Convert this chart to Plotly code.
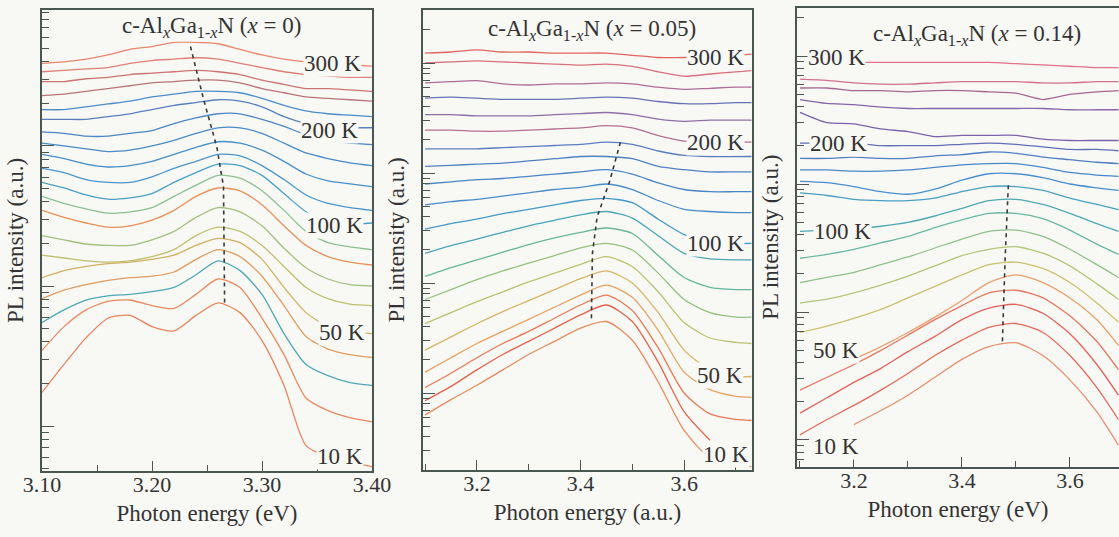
import numpy as np
import plotly.graph_objects as go

# Temperatures of the stacked PL spectra (bottom to top)
temps = [10, 20, 30, 40, 50, 60, 70, 80, 90, 100,
         120, 140, 160, 180, 200, 220, 240, 260, 280, 300]
labelled_temps = [10, 50, 100, 200, 300]

# ---- c-AlxGa1-xN, x = 0 : log10 PL intensity (offset) vs photon energy (eV)
energy_a = [3.10, 3.12, 3.14, 3.16, 3.18, 3.20, 3.22, 3.24,
            3.26, 3.28, 3.30, 3.32, 3.34, 3.36, 3.38, 3.40]
logpl_a = [
    [0.24, 0.44, 0.63, 0.77, 0.79, 0.71, 0.68, 0.79, 0.88, 0.81, 0.61, 0.29, -0.14, -0.22, -0.26, -0.29],
    [0.54, 0.71, 0.83, 0.89, 0.90, 0.86, 0.84, 0.94, 1.05, 0.99, 0.77, 0.51, 0.20, 0.11, 0.06, 0.03],
    [0.74, 0.83, 0.90, 0.93, 0.94, 0.96, 0.99, 1.08, 1.18, 1.11, 0.94, 0.66, 0.44, 0.36, 0.31, 0.29],
    [0.91, 0.97, 1.01, 1.04, 1.06, 1.07, 1.10, 1.19, 1.26, 1.21, 1.07, 0.86, 0.64, 0.55, 0.51, 0.49],
    [1.06, 1.11, 1.14, 1.16, 1.17, 1.19, 1.22, 1.29, 1.34, 1.31, 1.19, 0.99, 0.81, 0.71, 0.67, 0.66],
    [1.22, 1.20, 1.18, 1.17, 1.18, 1.21, 1.26, 1.36, 1.42, 1.39, 1.29, 1.14, 0.99, 0.91, 0.87, 0.86],
    [1.36, 1.33, 1.30, 1.29, 1.29, 1.33, 1.39, 1.49, 1.56, 1.53, 1.43, 1.27, 1.13, 1.05, 1.01, 1.00],
    [1.54, 1.49, 1.45, 1.42, 1.43, 1.47, 1.54, 1.64, 1.70, 1.68, 1.58, 1.43, 1.29, 1.21, 1.17, 1.15],
    [1.64, 1.59, 1.55, 1.52, 1.53, 1.56, 1.64, 1.72, 1.79, 1.77, 1.68, 1.54, 1.39, 1.31, 1.28, 1.26],
    [1.74, 1.70, 1.65, 1.62, 1.63, 1.66, 1.74, 1.81, 1.87, 1.86, 1.79, 1.66, 1.53, 1.46, 1.44, 1.45],
    [1.84, 1.81, 1.76, 1.74, 1.74, 1.78, 1.84, 1.89, 1.94, 1.93, 1.86, 1.76, 1.65, 1.59, 1.56, 1.54],
    [1.94, 1.91, 1.87, 1.85, 1.86, 1.89, 1.94, 1.99, 2.03, 2.02, 1.97, 1.89, 1.80, 1.75, 1.73, 1.71],
    [2.02, 2.00, 1.98, 1.96, 1.97, 2.00, 2.04, 2.09, 2.13, 2.13, 2.09, 2.02, 1.95, 1.91, 1.88, 1.86],
    [2.10, 2.09, 2.07, 2.07, 2.09, 2.11, 2.16, 2.20, 2.23, 2.23, 2.19, 2.14, 2.08, 2.04, 2.02, 2.01],
    [2.19, 2.19, 2.19, 2.21, 2.23, 2.26, 2.29, 2.31, 2.33, 2.32, 2.28, 2.21, 2.16, 2.13, 2.13, 2.13],
    [2.26, 2.26, 2.28, 2.30, 2.32, 2.35, 2.37, 2.39, 2.39, 2.38, 2.34, 2.29, 2.25, 2.23, 2.22, 2.21],
    [2.36, 2.37, 2.39, 2.41, 2.43, 2.45, 2.46, 2.47, 2.47, 2.45, 2.41, 2.38, 2.35, 2.34, 2.33, 2.32],
    [2.46, 2.46, 2.48, 2.49, 2.51, 2.52, 2.53, 2.54, 2.53, 2.51, 2.47, 2.44, 2.41, 2.41, 2.40, 2.39],
    [2.53, 2.54, 2.55, 2.56, 2.59, 2.61, 2.62, 2.63, 2.62, 2.59, 2.56, 2.53, 2.51, 2.50, 2.49, 2.49],
    [2.59, 2.60, 2.62, 2.65, 2.69, 2.71, 2.74, 2.74, 2.73, 2.69, 2.65, 2.62, 2.60, 2.59, 2.58, 2.57],
]
peak_e_a = [3.235, 3.247, 3.259, 3.265, 3.266]
peak_v_a = [2.71, 2.33, 1.99, 1.71, 0.88]

# ---- x = 0.05
energy_b = [3.10, 3.15, 3.20, 3.25, 3.30, 3.35, 3.40,
            3.45, 3.50, 3.55, 3.60, 3.65, 3.70, 3.73]
logpl_b = [
    [-0.20, -0.06, 0.07, 0.21, 0.35, 0.47, 0.59, 0.65, 0.48, 0.10, -0.34, -0.59, -0.65, -0.67],
    [-0.07, 0.06, 0.21, 0.35, 0.47, 0.59, 0.71, 0.80, 0.65, 0.28, -0.17, -0.43, None, None],
    [0.05, 0.18, 0.32, 0.45, 0.56, 0.68, 0.80, 0.89, 0.75, 0.41, 0.00, -0.19, -0.24, -0.25],
    [0.19, 0.32, 0.45, 0.56, 0.67, 0.78, 0.89, 0.98, 0.87, 0.57, 0.19, 0.03, -0.03, -0.04],
    [0.39, 0.51, 0.63, 0.74, 0.84, 0.94, 1.04, 1.11, 1.00, 0.73, 0.39, 0.21, 0.15, 0.15],
    [0.63, 0.73, 0.83, 0.92, 1.01, 1.09, 1.17, 1.24, 1.15, 0.92, 0.64, 0.50, 0.46, 0.45],
    [0.85, 0.94, 1.03, 1.11, 1.18, 1.25, 1.32, 1.36, 1.30, 1.09, 0.85, 0.73, 0.69, 0.69],
    [1.06, 1.14, 1.21, 1.28, 1.35, 1.41, 1.46, 1.50, 1.45, 1.25, 1.05, 0.96, 0.94, 0.94],
    [1.27, 1.34, 1.40, 1.46, 1.52, 1.57, 1.62, 1.65, 1.59, 1.43, 1.27, 1.22, 1.21, 1.21],
    [1.49, 1.54, 1.58, 1.63, 1.67, 1.71, 1.75, 1.77, 1.73, 1.58, 1.44, 1.38, 1.36, 1.36],
    [1.71, 1.74, 1.76, 1.79, 1.82, 1.85, 1.87, 1.90, 1.85, 1.75, 1.67, 1.65, 1.64, 1.64],
    [1.90, 1.92, 1.94, 1.95, 1.97, 1.99, 2.01, 2.03, 1.99, 1.91, 1.85, 1.83, 1.83, 1.83],
    [2.06, 2.07, 2.08, 2.09, 2.11, 2.13, 2.15, 2.15, 2.13, 2.06, 2.03, 2.01, 2.01, 2.01],
    [2.22, 2.22, 2.22, 2.23, 2.24, 2.25, 2.26, 2.28, 2.26, 2.20, 2.16, 2.15, 2.15, 2.15],
    [2.39, 2.39, 2.38, 2.38, 2.39, 2.40, 2.41, 2.43, 2.41, 2.34, 2.29, 2.28, 2.28, 2.28],
    [2.53, 2.53, 2.52, 2.52, 2.52, 2.53, 2.54, 2.55, 2.53, 2.49, 2.47, 2.48, 2.48, 2.48],
    [2.68, 2.69, 2.68, 2.67, 2.67, 2.67, 2.68, 2.69, 2.68, 2.65, 2.63, 2.63, 2.64, 2.64],
    [2.82, 2.83, 2.84, 2.81, 2.80, 2.81, 2.81, 2.82, 2.81, 2.78, 2.76, 2.77, 2.78, 2.78],
    [3.00, 3.01, 3.02, 3.01, 3.00, 2.99, 2.98, 2.99, 2.97, 2.92, 2.88, 2.90, 2.92, 2.93],
    [3.09, 3.10, 3.12, 3.10, 3.10, 3.09, 3.09, 3.09, 3.07, 3.05, 3.05, 3.06, 3.07, 3.08],
]
peak_e_b = [3.477, 3.456, 3.432, 3.423, 3.421]
peak_v_b = [2.28, 1.92, 1.60, 1.27, 0.66]

# ---- x = 0.14
energy_c = [3.10, 3.15, 3.20, 3.25, 3.30, 3.35, 3.40,
            3.45, 3.50, 3.55, 3.60, 3.65, 3.69]
logpl_c = [
    [None, None, 0.12, 0.23, 0.35, 0.49, 0.63, 0.73, 0.76, 0.66, 0.47, 0.22, -0.04],
    [0.04, 0.16, 0.27, 0.39, 0.52, 0.66, 0.78, 0.88, 0.91, 0.84, 0.66, 0.41, 0.16],
    [0.21, 0.33, 0.45, 0.56, 0.69, 0.81, 0.94, 1.03, 1.06, 0.99, 0.83, 0.59, 0.35],
    [0.39, 0.49, 0.59, 0.70, 0.82, 0.94, 1.05, 1.15, 1.17, 1.11, 0.97, 0.77, 0.55],
    [None, None, 0.63, 0.73, 0.84, 0.96, 1.09, 1.23, 1.29, 1.23, 1.11, 0.94, 0.74],
    [0.84, 0.89, 0.95, 1.02, 1.11, 1.20, 1.29, 1.37, 1.39, 1.34, 1.23, 1.07, 0.92],
    [1.07, 1.10, 1.15, 1.21, 1.28, 1.36, 1.44, 1.49, 1.51, 1.46, 1.36, 1.22, 1.10],
    [1.23, 1.27, 1.31, 1.37, 1.43, 1.50, 1.57, 1.63, 1.64, 1.59, 1.49, 1.37, 1.27],
    [1.42, 1.45, 1.49, 1.54, 1.59, 1.66, 1.72, 1.77, 1.77, 1.73, 1.64, 1.53, 1.45],
    [1.63, 1.64, 1.65, 1.67, 1.70, 1.75, 1.81, 1.87, 1.88, 1.84, 1.77, 1.69, 1.63],
    [1.93, 1.91, 1.88, 1.87, 1.87, 1.89, 1.94, 1.98, 1.98, 1.95, 1.89, 1.84, 1.80],
    [2.02, 2.01, 1.98, 1.94, 1.92, 1.96, 2.03, 2.08, 2.08, 2.05, 2.00, 1.97, 1.95],
    [2.11, 2.11, 2.10, 2.10, 2.11, 2.13, 2.15, 2.16, 2.16, 2.13, 2.09, 2.07, 2.06],
    [2.20, 2.20, 2.21, 2.20, 2.20, 2.22, 2.23, 2.25, 2.24, 2.21, 2.19, 2.17, 2.16],
    [2.32, 2.32, 2.32, 2.30, 2.30, 2.30, 2.31, 2.32, 2.31, 2.29, 2.27, 2.27, 2.26],
    [2.56, 2.48, 2.47, 2.43, 2.41, 2.37, 2.38, 2.38, 2.38, 2.35, 2.34, 2.34, 2.34],
    [2.66, 2.63, 2.62, 2.60, 2.59, 2.59, 2.59, 2.59, 2.59, 2.59, 2.58, 2.58, 2.58],
    [2.75, 2.75, 2.73, 2.73, 2.72, 2.73, 2.73, 2.72, 2.71, 2.66, 2.70, 2.72, 2.73],
    [2.82, 2.81, 2.79, 2.78, 2.78, 2.79, 2.80, 2.80, 2.80, 2.79, 2.79, 2.80, 2.80],
    [None, None, 2.95, 2.95, 2.95, 2.95, 2.95, 2.95, 2.94, 2.93, 2.92, 2.91, 2.91],
]
peak_e_c = [3.486, 3.480, 3.475]
peak_v_c = [1.99, 1.41, 0.77]

# Label anchor points (energy, log10 intensity) for each labelled temperature
label_e_a = [3.371, 3.373, 3.366, 3.361, 3.364]
label_v_a = [-0.22, 0.67, 1.43, 2.11, 2.59]
label_e_b = [3.680, 3.670, 3.660, 3.660, 3.660]
label_v_b = [-0.56, 0.16, 1.36, 2.28, 3.05]
label_e_c = [3.167, 3.167, 3.178, 3.171, 3.167]
label_v_c = [-0.05, 0.70, 1.63, 2.32, 2.99]

# Line colours, one per temperature (bottom to top)
colors_a = ["#e9845c", "#e98a5e", "#4fa8b4", "#e39c5f", "#d0b163", "#c0bf6e",
            "#a4c07e", "#e88f59", "#8cbf92", "#4a9fc6", "#4a96cc", "#4690cb",
            "#4a8bc8", "#4d86c4", "#5a80c0", "#4d8ccb", "#b87478", "#cc7473",
            "#de8078", "#e8866c"]
colors_b = ["#e98a5d", "#e4624c", "#e87a55", "#e6a262", "#d6b566", "#bcc26f",
            "#95c27e", "#67b59c", "#4aa6b4", "#4599c5", "#4a8dca", "#4a85c6",
            "#5281c3", "#5a7cc0", "#b56f90", "#8a70a8", "#6a72b4", "#ad6e94",
            "#d8707e", "#e3645e"]
colors_c = ["#e98e6e", "#e46a5a", "#e2625a", "#e7765f", "#e9a06c", "#cdc06f",
            "#b3c779", "#8fc189", "#6cb7a2", "#4fa9b2", "#4aa0c2", "#488fd0",
            "#4a88c9", "#527fc2", "#6070b8", "#7a64a8", "#8468a8", "#a56890",
            "#d16f90", "#e2728a"]

BG = "#f8f8f5"
AX = "#4a5651"
TXT = "#333333"
FONT = "Liberation Serif"
FS = 23
W, H = 1119, 537

panels = [
    dict(energy=energy_a, logpl=logpl_a, colors=colors_a, pe=peak_e_a, pv=peak_v_a,
         le=label_e_a, lv=label_v_a, xdom=(42, 372), ydom=(10, 471),
         xr=[3.10, 3.40], yr=[-0.321, 2.971], dtick=0.1, tick0=3.1, minor=0.05,
         fmt=".2f", unit="eV", comp="0", mirror_y=True, tx=0.515, ty=0.963),
    dict(energy=energy_b, logpl=logpl_b, colors=colors_b, pe=peak_e_b, pv=peak_v_b,
         le=label_e_b, lv=label_v_b, xdom=(423, 752), ydom=(10, 470),
         xr=[3.096, 3.731], yr=[-0.70, 3.482], dtick=0.2, tick0=3.2, minor=0.1,
         fmt=".1f", unit="a.u.", comp="0.05", mirror_y=True, tx=0.515, ty=0.957),
    dict(energy=energy_c, logpl=logpl_c, colors=colors_c, pe=peak_e_c, pv=peak_v_c,
         le=label_e_c, lv=label_v_c, xdom=(797, 1119), ydom=(7.5, 467),
         xr=[3.0945, 3.691], yr=[-0.211, 3.379], dtick=0.2, tick0=3.2, minor=0.1,
         fmt=".1f", unit="eV", comp="0.14", mirror_y=False, tx=0.56, ty=0.94),
]

fig = go.Figure()
layout = dict(
    width=W, height=H, margin=dict(l=0, r=0, t=0, b=0),
    paper_bgcolor=BG, plot_bgcolor=BG, showlegend=False,
    font=dict(family=FONT, color=TXT, size=FS),
)
annotations = []

for i, p in enumerate(panels):
    n = "" if i == 0 else str(i + 1)
    xa, ya = "x" + n, "y" + n

    for t, vals, col in zip(temps, p["logpl"], p["colors"]):
        fig.add_trace(go.Scatter(
            x=p["energy"], y=vals, mode="lines", xaxis=xa, yaxis=ya,
            line=dict(color=col, width=1.3, shape="spline", smoothing=0.7),
            connectgaps=False, hoverinfo="skip", name=f"{t} K"))

    # dashed guide through the emission peak
    fig.add_trace(go.Scatter(
        x=p["pe"], y=p["pv"], mode="lines", xaxis=xa, yaxis=ya,
        line=dict(color="#3a3a3a", width=1.6, dash="4px,4px"),
        hoverinfo="skip"))

    lo = int(np.floor(p["yr"][0])) - 1
    hi = int(np.ceil(p["yr"][1])) + 1
    majors = [d for d in range(lo, hi) if p["yr"][0] <= d <= p["yr"][1]]
    minors = [d + np.log10(k) for d in range(lo, hi) for k in range(2, 10)]
    minors = [round(float(m), 4) for m in minors if p["yr"][0] <= m <= p["yr"][1]]

    x0, x1 = p["xdom"]
    y0, y1 = p["ydom"]
    layout["xaxis" + n] = dict(
        domain=[x0 / W, x1 / W], range=p["xr"], anchor=ya,
        showline=True, linecolor=AX, linewidth=1.6, mirror=True,
        showgrid=False, zeroline=False,
        ticks="inside", ticklen=10, tickwidth=1.4, tickcolor=AX,
        tick0=p["tick0"], dtick=p["dtick"], tickformat=p["fmt"],
        ticklabelstandoff=-7,
        minor=dict(ticks="inside", ticklen=6, tickwidth=1.4, tickcolor=AX,
                   dtick=p["minor"], showgrid=False),
        tickfont=dict(size=FS - 1, family=FONT, color=TXT),
        title=dict(text=f"Photon energy ({p['unit']})", standoff=9,
                   font=dict(size=FS, family=FONT, color=TXT)),
        automargin=False,
    )
    layout["yaxis" + n] = dict(
        domain=[(H - y1) / H, (H - y0) / H], range=p["yr"], anchor=xa,
        showline=True, linecolor=AX, linewidth=1.6, mirror=p["mirror_y"],
        showgrid=False, zeroline=False, showticklabels=False,
        ticks="inside", ticklen=12, tickwidth=1.4, tickcolor=AX,
        tickmode="array", tickvals=majors,
        minor=dict(ticks="inside", ticklen=7, tickwidth=1.2, tickcolor=AX,
                   tickvals=minors, showgrid=False),
        title=dict(text="PL intensity (a.u.)", standoff=10,
                   font=dict(size=FS, family=FONT, color=TXT)),
        automargin=False,
    )

    # temperature labels (background masks the curve beneath)
    for t, e, v in zip(labelled_temps, p["le"], p["lv"]):
        annotations.append(dict(
            x=e, y=v, xref=xa, yref=ya, text=f"{t} K", showarrow=False,
            font=dict(size=FS, family=FONT, color=TXT),
            bgcolor=BG, borderpad=0, xanchor="center", yanchor="middle"))

    annotations.append(dict(
        x=p["tx"], y=p["ty"], xref=xa + " domain", yref=ya + " domain",
        text=f"c-Al<sub><i>x</i></sub>Ga<sub>1-<i>x</i></sub>N (<i>x</i> = {p['comp']})",
        showarrow=False, font=dict(size=FS, family=FONT, color=TXT),
        bgcolor=BG, borderpad=0, xanchor="center", yanchor="middle"))

layout["annotations"] = annotations
fig.update_layout(**layout)
fig.write_html("out.html")
